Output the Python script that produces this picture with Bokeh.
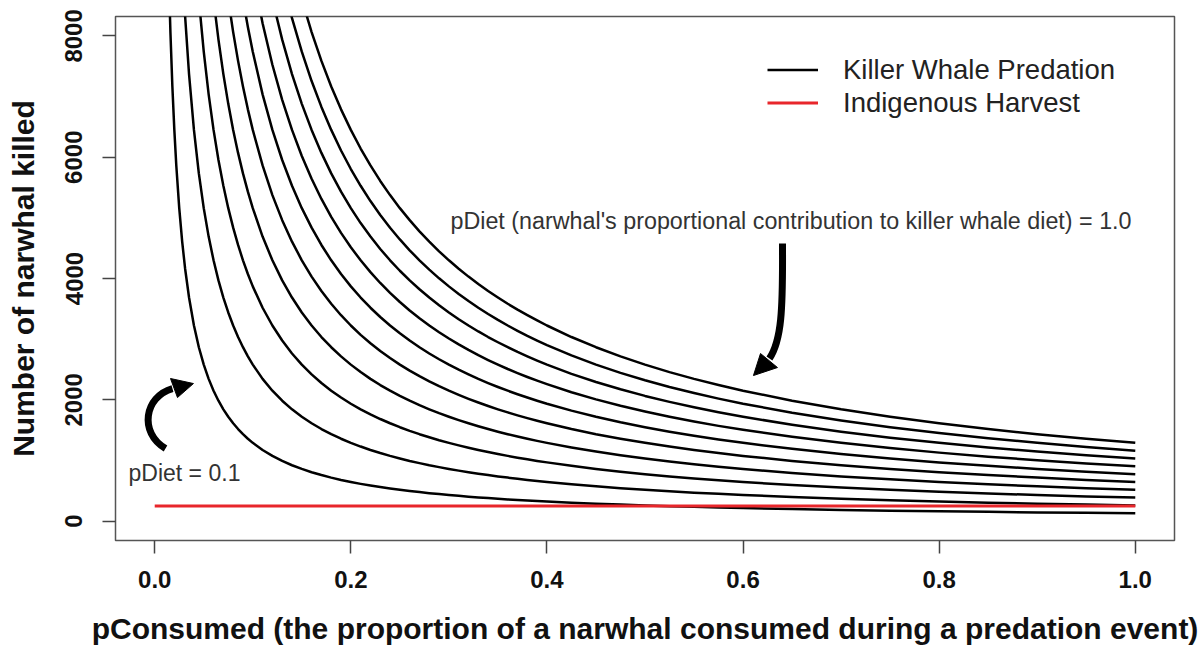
import numpy as np
from bokeh.plotting import figure
from bokeh.models import Range1d, FixedTicker, PrintfTickFormatter, Legend, LegendItem
from bokeh.core.properties import value
from bokeh.embed import file_html
from bokeh.resources import INLINE

# ---------------- data ----------------
p_consumed = [0.014, 0.016, 0.018, 0.020, 0.022, 0.025, 0.028, 0.031, 0.035, 0.040,
              0.045, 0.050, 0.055, 0.060, 0.065, 0.070, 0.075, 0.080, 0.085, 0.090,
              0.095, 0.100,
              0.11, 0.12, 0.13, 0.14, 0.15, 0.16, 0.17, 0.18, 0.19, 0.20,
              0.21, 0.22, 0.23, 0.24, 0.25, 0.26, 0.27, 0.28, 0.29, 0.30,
              0.31, 0.32, 0.33, 0.34, 0.35, 0.36, 0.37, 0.38, 0.39, 0.40,
              0.425, 0.45, 0.475, 0.50, 0.525, 0.55, 0.575, 0.60,
              0.65, 0.70, 0.75, 0.80, 0.85, 0.90, 0.95, 1.00]

killed_pdiet_01 = [9214, 8063, 7167, 6450, 5864, 5160, 4607, 4161, 3686, 3225,
                   2867, 2580, 2345, 2150, 1985, 1843, 1720, 1613, 1518, 1433,
                   1358, 1290,
                   1173, 1075, 992, 921, 860, 806, 759, 717, 679, 645,
                   614, 586, 561, 538, 516, 496, 478, 461, 445, 430,
                   416, 403, 391, 379, 369, 358, 349, 339, 331, 323,
                   304, 287, 272, 258, 246, 235, 224, 215,
                   198, 184, 172, 161, 152, 143, 136, 129]
killed_pdiet_02 = [None] * 6 + [9214, 8323, 7371, 6450,
                                5733, 5160, 4691, 4300, 3969, 3686, 3440, 3225, 3035, 2867,
                                2716, 2580,
                                2345, 2150, 1985, 1843, 1720, 1613, 1518, 1433, 1358, 1290,
                                1229, 1173, 1122, 1075, 1032, 992, 956, 921, 890, 860,
                                832, 806, 782, 759, 737, 717, 697, 679, 662, 645,
                                607, 573, 543, 516, 491, 469, 449, 430,
                                397, 369, 344, 323, 304, 287, 272, 258]
killed_pdiet_03 = [None] * 10 + [8600, 7740, 7036, 6450, 5954, 5529, 5160, 4838, 4553, 4300,
                                 4074, 3870,
                                 3518, 3225, 2977, 2764, 2580, 2419, 2276, 2150, 2037, 1935,
                                 1843, 1759, 1683, 1613, 1548, 1488, 1433, 1382, 1334, 1290,
                                 1248, 1209, 1173, 1138, 1106, 1075, 1046, 1018, 992, 968,
                                 911, 860, 815, 774, 737, 704, 673, 645,
                                 595, 553, 516, 484, 455, 430, 407, 387]
killed_pdiet_04 = [None] * 13 + [8600, 7938, 7371, 6880, 6450, 6071, 5733,
                                 5432, 5160,
                                 4691, 4300, 3969, 3686, 3440, 3225, 3035, 2867, 2716, 2580,
                                 2457, 2345, 2243, 2150, 2064, 1985, 1911, 1843, 1779, 1720,
                                 1665, 1613, 1564, 1518, 1474, 1433, 1395, 1358, 1323, 1290,
                                 1214, 1147, 1086, 1032, 983, 938, 897, 860,
                                 794, 737, 688, 645, 607, 573, 543, 516]
killed_pdiet_05 = [None] * 16 + [8600, 8063, 7588, 7167, 6789, 6450,
                                 5864, 5375, 4962, 4607, 4300, 4031, 3794, 3583, 3395, 3225,
                                 3071, 2932, 2804, 2688, 2580, 2481, 2389, 2304, 2224, 2150,
                                 2081, 2016, 1955, 1897, 1843, 1792, 1743, 1697, 1654, 1613,
                                 1518, 1433, 1358, 1290, 1229, 1173, 1122, 1075,
                                 992, 921, 860, 806, 759, 717, 679, 645]
killed_pdiet_06 = [None] * 19 + [8600, 8147, 7740,
                                 7036, 6450, 5954, 5529, 5160, 4838, 4553, 4300, 4074, 3870,
                                 3686, 3518, 3365, 3225, 3096, 2977, 2867, 2764, 2669, 2580,
                                 2497, 2419, 2345, 2276, 2211, 2150, 2092, 2037, 1985, 1935,
                                 1821, 1720, 1629, 1548, 1474, 1407, 1346, 1290,
                                 1191, 1106, 1032, 968, 911, 860, 815, 774]
killed_pdiet_07 = [None] * 21 + [9030,
                                 8209, 7525, 6946, 6450, 6020, 5644, 5312, 5017, 4753, 4515,
                                 4300, 4105, 3926, 3763, 3612, 3473, 3344, 3225, 3114, 3010,
                                 2913, 2822, 2736, 2656, 2580, 2508, 2441, 2376, 2315, 2258,
                                 2125, 2007, 1901, 1806, 1720, 1642, 1570, 1505,
                                 1389, 1290, 1204, 1129, 1062, 1003, 951, 903]
killed_pdiet_08 = [None] * 23 + [8600, 7938, 7371, 6880, 6450, 6071, 5733, 5432, 5160,
                                 4914, 4691, 4487, 4300, 4128, 3969, 3822, 3686, 3559, 3440,
                                 3329, 3225, 3127, 3035, 2949, 2867, 2789, 2716, 2646, 2580,
                                 2428, 2293, 2173, 2064, 1966, 1876, 1795, 1720,
                                 1588, 1474, 1376, 1290, 1214, 1147, 1086, 1032]
killed_pdiet_09 = [None] * 24 + [8931, 8293, 7740, 7256, 6829, 6450, 6111, 5805,
                                 5529, 5277, 5048, 4838, 4644, 4465, 4300, 4146, 4003, 3870,
                                 3745, 3628, 3518, 3415, 3317, 3225, 3138, 3055, 2977, 2903,
                                 2732, 2580, 2444, 2322, 2211, 2111, 2019, 1935,
                                 1786, 1659, 1548, 1451, 1366, 1290, 1222, 1161]
killed_pdiet_10 = [None] * 26 + [8600, 8063, 7588, 7167, 6789, 6450,
                                 6143, 5864, 5609, 5375, 5160, 4962, 4778, 4607, 4448, 4300,
                                 4161, 4031, 3909, 3794, 3686, 3583, 3486, 3395, 3308, 3225,
                                 3035, 2867, 2716, 2580, 2457, 2345, 2243, 2150,
                                 1985, 1843, 1720, 1613, 1518, 1433, 1358, 1290]

harvest_x = [0.0, 1.0]
harvest_y = [248, 248]

x_ticks = [0.0, 0.2, 0.4, 0.6, 0.8, 1.0]
y_ticks = [0, 2000, 4000, 6000, 8000]

legend_labels = ["Killer Whale Predation", "Indigenous Harvest"]
note_top = "pDiet (narwhal's proportional contribution to killer whale diet) = 1.0"
note_bottom = "pDiet = 0.1"
x_title = "pConsumed (the proportion of a narwhal consumed during a predation event)"
y_title = "Number of narwhal killed"

FONT = "Liberation Sans"

# ---------------- figure ----------------
p = figure(width=1203, height=647, output_backend="svg", toolbar_location=None,
           x_range=Range1d(-0.04, 1.04), y_range=Range1d(-320, 8320),
           min_border_left=115, min_border_right=29, min_border_top=16, min_border_bottom=107)
p.background_fill_color = "white"
p.border_fill_color = "white"
p.outline_line_color = "#555555"
p.outline_line_width = 1.5
p.xgrid.visible = False
p.ygrid.visible = False

for ax in (p.xaxis[0], p.yaxis[0]):
    ax.axis_line_color = None
    ax.major_tick_line_color = "#444444"
    ax.major_tick_line_width = 1.5
    ax.major_tick_out = 13
    ax.major_tick_in = 0
    ax.minor_tick_line_color = None
    ax.major_label_text_font = FONT
    ax.major_label_text_font_style = "bold"
    ax.major_label_text_font_size = "24px"
    ax.major_label_text_color = "#111111"
    ax.axis_label_text_font = FONT
    ax.axis_label_text_font_style = "bold"
    ax.axis_label_text_font_size = "30px"
    ax.axis_label_text_color = "#111111"

p.xaxis.ticker = FixedTicker(ticks=x_ticks)
p.xaxis.formatter = PrintfTickFormatter(format="%.1f")
p.xaxis.axis_label = x_title
p.xaxis.major_label_standoff = 17
p.xaxis.axis_label_standoff = 21

p.yaxis.ticker = FixedTicker(ticks=y_ticks)
p.yaxis.major_label_orientation = "vertical"
p.yaxis.axis_label = y_title
p.yaxis.major_label_standoff = 20
p.yaxis.axis_label_standoff = 23

series = [killed_pdiet_01, killed_pdiet_02, killed_pdiet_03, killed_pdiet_04, killed_pdiet_05,
          killed_pdiet_06, killed_pdiet_07, killed_pdiet_08, killed_pdiet_09, killed_pdiet_10]
xs = np.array(p_consumed, dtype=float)
black_renderers = []
for s in series:
    ys = np.array(s, dtype=float)
    r = p.line(xs, ys, line_color="black", line_width=2.5, line_join="round")
    black_renderers.append(r)

red = p.line(harvest_x, harvest_y, line_color="#e8262b", line_width=3)

# ---------------- curved arrows (annotations) ----------------
p.bezier(x0=[0.011, 0.6402], y0=[1196, 4577],
         x1=[0.0181, 0.6269], y1=[2186, 2680],
         cx0=[-0.0165, 0.6407], cy0=[1460, 3472],
         cx1=[-0.0104, 0.6392], cy1=[2054, 2977],
         line_color="black", line_width=7)
p.patches(xs=[[0.0161, 0.0395, 0.0232], [0.6178, 0.6106, 0.6351]],
          ys=[[2351, 2268, 2037], [2763, 2400, 2532]],
          fill_color="black", line_color="black", line_width=1)

p.text(x=[0.3016], y=[4948], text=[note_top], text_font=value(FONT), text_font_size="23.3px",
       text_align="left", text_baseline="alphabetic", text_color="#333333")
p.text(x=[-0.0267], y=[793], text=[note_bottom], text_font=value(FONT), text_font_size="23px",
       text_align="left", text_baseline="alphabetic", text_color="#333333")

legend = Legend(items=[LegendItem(label=legend_labels[0], renderers=[black_renderers[0]]),
                       LegendItem(label=legend_labels[1], renderers=[red])],
                location=(652, 421), orientation="vertical",
                border_line_color=None, background_fill_alpha=0,
                padding=0, margin=0, spacing=0,
                glyph_width=51, glyph_height=33, label_height=33, label_standoff=25,
                label_text_font=FONT, label_text_font_size="27.5px", label_text_color="#222222")
p.add_layout(legend)

open("out.html", "w").write(file_html(p, INLINE))
